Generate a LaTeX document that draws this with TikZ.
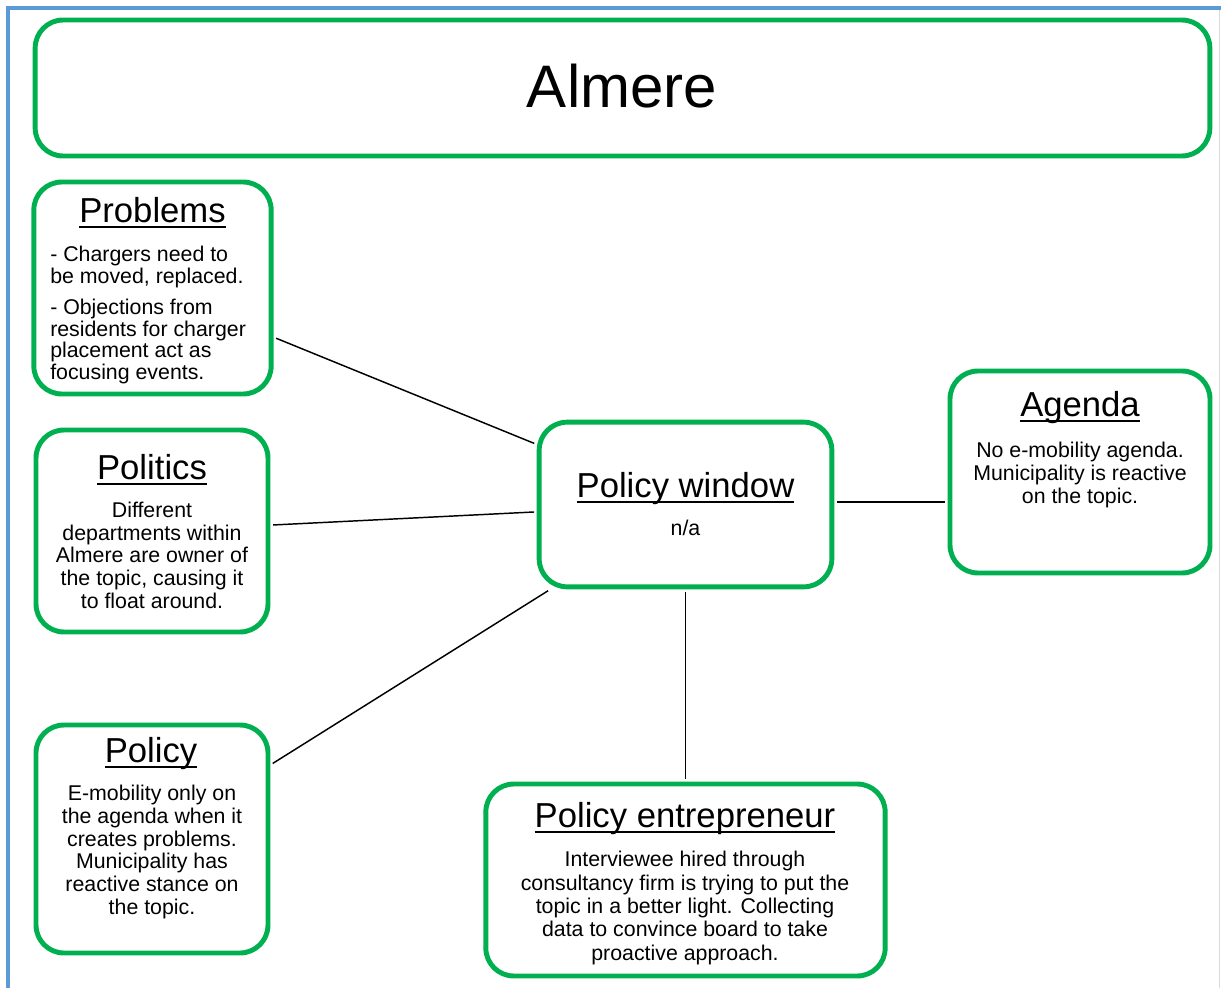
\documentclass[tikz,border=0pt]{standalone}
\usepackage{fontspec}
\setmainfont{Liberation Sans}
\definecolor{boxgreen}{HTML}{00B050}
\definecolor{frameblue}{HTML}{5B9BD5}
\definecolor{edgegray}{HTML}{D9D9D9}
% heading text with a thick underline
\newcommand\ulhead[1]{\setbox0\hbox{#1}\leavevmode\rlap{\copy0}\raisebox{-4.4pt}{\rule{\wd0}{1.7pt}}}
\begin{document}
\begin{tikzpicture}[x=0.75pt,y=-0.75pt,
  greenbox/.style={draw=boxgreen,line width=3.7pt,rounded corners=21pt,
    inner sep=0pt,fill=white},
  headtext/.style={font=\fontsize{26pt}{30pt}\selectfont,inner sep=0pt,anchor=base},
  bodytext/.style={font=\fontsize{16pt}{17pt}\selectfont,inner sep=0pt,
    align=center,anchor=base},
  link/.style={draw=black,line width=1.1pt,shorten <=2pt,shorten >=2pt}]
\useasboundingbox (0,0) rectangle (1221,988);
\fill[white] (0,0) rectangle (1221,988);
% page frame
\draw[edgegray,line width=0.8pt] (1219.5,8) -- (1219.5,988);
\draw[frameblue,line width=3pt] (8,988) -- (8,8) -- (1221,8);

% boxes
\node[greenbox,minimum width=881pt,minimum height=102pt] (title) at (622.5,88) {};
\node[greenbox,minimum width=178pt,minimum height=159pt] (prob) at (152.5,288) {};
\node[greenbox,minimum width=174pt,minimum height=151.5pt] (pol) at (152,531) {};
\node[greenbox,minimum width=174pt,minimum height=171pt] (policy) at (152,839) {};
\node[greenbox,minimum width=219.5pt,minimum height=123.5pt] (pw) at (685.5,504.5) {};
\node[greenbox,minimum width=195pt,minimum height=151.5pt] (agenda) at (1080,472) {};
\node[greenbox,minimum width=299.5pt,minimum height=144pt] (pe) at (685.5,880) {};

% connectors
\draw[link] (prob) -- (pw);
\draw[link] (pol) -- (pw);
\draw[link] (policy) -- (pw);
\draw[link] ([yshift=2pt]pw.east) -- ([yshift=2pt]pw.east -| agenda.west);
\draw[link] (pw.south) -- (pe.north);

% title
\node[inner sep=0pt,anchor=base,font=\fontsize{45pt}{50pt}\selectfont] (titletext) at (622,108) {Almere};

% headings
\node[headtext] (probh) at (152.5,222.5) {\ulhead{Problems}};
\node[headtext] (polh) at (152,479.5) {\ulhead{Politics}};
\node[headtext] (policyh) at (151,762.5) {\ulhead{Policy}};
\node[headtext] (pwh) at (685.5,497.5) {\ulhead{Policy window}};
\node[headtext] (agendah) at (1080,416.5) {\ulhead{Agenda}};
\node[headtext] (peh) at (685,827.5) {\ulhead{Policy entrepreneur}};

% body texts (anchored at the baseline of their last line)
\node[bodytext,align=left,anchor=base west,font=\fontsize{16pt}{16.1pt}\selectfont] (probt) at (50,379)
  {- Chargers need to\\be moved, replaced.\\[7.6pt]- Objections from\\residents for charger\\placement act as\\focusing events.};
\node[bodytext] (polt) at (152,608)
  {Different\\departments within\\Almere are owner of\\the topic, causing it\\to float around.};
\node[bodytext] (policyt) at (152,914)
  {E-mobility only on\\the agenda when it\\creates problems.\\Municipality has\\reactive stance on\\the topic.};
\node[bodytext] (pwt) at (685.5,535) {n/a};
\node[bodytext] (agendat) at (1080,503)
  {No e-mobility agenda.\\Municipality is reactive\\on the topic.};
\node[bodytext,font=\fontsize{16pt}{17.5pt}\selectfont] (pet) at (685,960)
  {Interviewee hired through\\consultancy firm is trying to put the\\topic in a better light. Collecting\\data to convince board to take\\proactive approach.};
\end{tikzpicture}
\end{document}
